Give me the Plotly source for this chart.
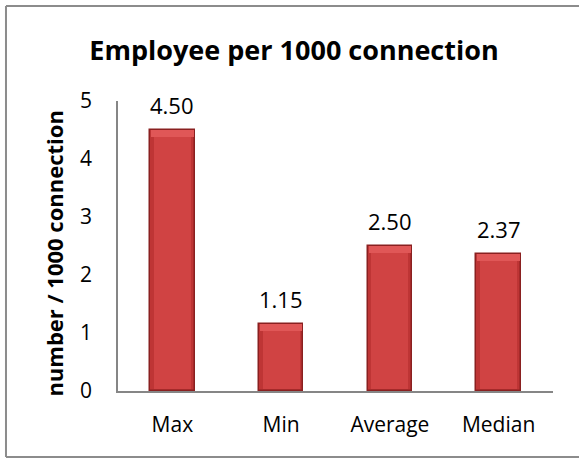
import plotly.graph_objects as go

categories = ["Max", "Min", "Average", "Median"]
values = [4.50, 1.15, 2.50, 2.37]
value_labels = ["4.50", "1.15", "2.50", "2.37"]
y_ticks = [0, 1, 2, 3, 4, 5]

FONT = "Open Sans"
BAR_WIDTH = 0.41
CAP = 0.12  # height of the lighter bevel band at the top of each bar

fig = go.Figure()

# main bar body
fig.add_trace(go.Bar(
    x=categories, y=values, width=BAR_WIDTH,
    marker=dict(color="#BE3535", line=dict(color="#8A2020", width=1.5)),
    hoverinfo="skip", showlegend=False,
))
# inner face, slightly brighter
fig.add_trace(go.Bar(
    x=categories, y=[v - CAP - 0.04 for v in values], base=[0.04] * len(values),
    width=BAR_WIDTH - 0.07,
    marker=dict(color="#D04343", line=dict(width=0)),
    hoverinfo="skip", showlegend=False,
))
# top bevel highlight
fig.add_trace(go.Bar(
    x=categories, y=[CAP] * len(values), base=[v - CAP for v in values],
    width=BAR_WIDTH - 0.02,
    marker=dict(color="#E05757", line=dict(width=0)),
    hoverinfo="skip", showlegend=False,
))

for c, v, t in zip(categories, values, value_labels):
    fig.add_annotation(x=c, y=v, text=t, showarrow=False, yanchor="bottom",
                       yshift=8, font=dict(family=FONT, size=22, color="#000000"))

# vertical axis title
fig.add_annotation(text="<b>number / 1000 connection</b>", textangle=-90,
                   xref="paper", yref="paper", x=-0.148, y=0.5, yshift=-8,
                   xanchor="center", yanchor="middle", showarrow=False,
                   font=dict(family=FONT, size=22, color="#000000"))

# chart frame: left, top and bottom edges (the right edge lies off the page)
frame = dict(color="#8C8C8C", width=2)
fx0, fx1, fy0, fy1 = -0.2575, 1.1, -0.228, 1.328
for x0, y0, x1, y1 in [(fx0, fy0, fx0, fy1), (fx0, fy1, fx1, fy1), (fx0, fy0, fx1, fy0)]:
    fig.add_shape(type="line", xref="paper", yref="paper",
                  x0=x0, y0=y0, x1=x1, y1=y1, line=frame, layer="below")

fig.update_layout(
    width=579, height=458,
    margin=dict(l=118, r=26, t=101, b=67),
    barmode="overlay",
    bargap=0,
    paper_bgcolor="white", plot_bgcolor="white",
    font=dict(family=FONT, color="#000000"),
    title=dict(text="<b>Employee per 1000 connection</b>",
               x=294 / 579, xanchor="center", xref="container",
               y=1 - 51 / 458, yanchor="middle", yref="container",
               font=dict(family=FONT, size=27, color="#000000")),
    xaxis=dict(showline=True, linecolor="#868686", linewidth=1.5,
               showgrid=False, ticks="", ticklabelstandoff=14,
               tickfont=dict(family=FONT, size=21, color="#000000")),
    yaxis=dict(range=[0, 5], tickvals=y_ticks, showline=True,
               linecolor="#868686", linewidth=1.5, showgrid=False,
               zeroline=False, ticks="", ticklabelstandoff=20,
               tickfont=dict(family=FONT, size=21, color="#000000")),
)

fig.write_html("out.html")
